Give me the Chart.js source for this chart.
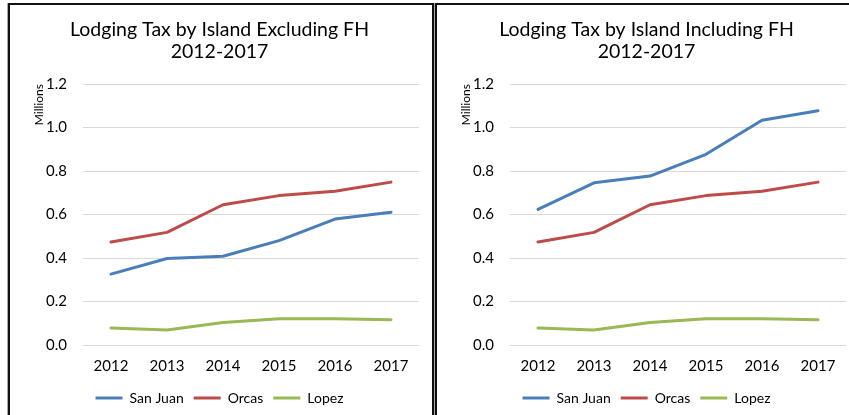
<!DOCTYPE html>
<html>
<head>
<meta charset="utf-8">
<script src="https://cdn.jsdelivr.net/npm/chart.js@4"></script>
<style>
  html, body { margin: 0; padding: 0; background: #fff; overflow: hidden; }
  body { width: 849px; height: 415px; position: relative; }
  .panel { position: absolute; top: 3px; height: 420px; box-sizing: border-box; border-top: 2px solid #111; border-left: 2px solid #111; background: #fff; }
  #leftPanel { left: 8px; width: 426px; border-right: 2px solid #111; }
  #rightPanel { left: 435px; width: 430px; }
  .panel::before { content: ''; position: absolute; top: -2px; bottom: 0; width: 1px; background: #aaa; }
  #leftPanel::before { left: -3px; }
  #rightPanel::before { left: -3px; }
  canvas { position: absolute; left: 0; top: 0; }
</style>
</head>
<body>
<div class="panel" id="leftPanel"><canvas id="chartExcl" width="422" height="410"></canvas></div>
<div class="panel" id="rightPanel"><canvas id="chartIncl" width="422" height="410"></canvas></div>
<script>
// 데이터 (그림에서 읽은 값, 단위: 백만)
const years = ['2012', '2013', '2014', '2015', '2016', '2017'];
const sanJuanExcl = [0.326, 0.398, 0.408, 0.48, 0.579, 0.611];
const sanJuanIncl = [0.624, 0.746, 0.777, 0.877, 1.034, 1.077];
const orcas = [0.474, 0.518, 0.645, 0.687, 0.707, 0.749];
const lopez = [0.078, 0.069, 0.103, 0.121, 0.121, 0.116];
const yMin = 0, yMax = 1.2, yStep = 0.2;

const FONT = 'Lato, "Open Sans", sans-serif';

function makeChart(id, title, sanJuan) {
    const ctx = document.getElementById(id).getContext('2d');
    return new Chart(ctx, {
        type: 'line',
        data: {
            labels: years,
            datasets: [
                { label: 'San Juan', data: sanJuan, borderColor: '#4A7EBB', backgroundColor: '#4A7EBB', borderWidth: 3 },
                { label: 'Orcas', data: orcas, borderColor: '#BE4B48', backgroundColor: '#BE4B48', borderWidth: 3 },
                { label: 'Lopez', data: lopez, borderColor: '#98B954', backgroundColor: '#98B954', borderWidth: 3 }
            ]
        },
        options: {
            responsive: false,
            animation: false,
            elements: {
                line: { tension: 0, borderCapStyle: 'round', borderJoinStyle: 'round' },
                point: { radius: 0 }
            },
            layout: { padding: { left: 10, right: 13, top: 0, bottom: 0 } },
            scales: {
                x: {
                    offset: true,
                    grid: { display: false, drawTicks: false },
                    border: { display: false },
                    ticks: { color: '#000', padding: 12, font: { family: FONT, size: 15 } },
                    afterFit: (scale) => { scale.height = 36; }
                },
                y: {
                    min: yMin,
                    max: yMax,
                    ticks: {
                        stepSize: yStep,
                        color: '#000',
                        padding: 16,
                        font: { family: FONT, size: 15 },
                        callback: (v) => v.toFixed(1)
                    },
                    grid: { color: '#D9D9D9', lineWidth: 1, drawTicks: false },
                    border: { display: false },
                    title: {
                        display: true,
                        text: 'Millions',
                        align: 'end',
                        color: '#000',
                        font: { family: FONT, size: 12 },
                        padding: { top: 12, bottom: 0 }
                    },
                    afterFit: (scale) => { scale.width = 63; }
                }
            },
            plugins: {
                title: {
                    display: true,
                    text: [title, '2012-2017'],
                    color: '#000',
                    font: { family: FONT, size: 19.5, weight: 'normal', lineHeight: 1.13 },
                    padding: { top: 14, bottom: 21 }
                },
                legend: {
                    position: 'bottom',
                    labels: {
                        usePointStyle: true,
                        pointStyle: 'line',
                        pointStyleWidth: 27,
                        boxHeight: 3,
                        padding: 10,
                        color: '#000',
                        font: { family: FONT, size: 14 }
                    }
                },
                tooltip: { enabled: false }
            }
        }
    });
}

makeChart('chartExcl', 'Lodging Tax by Island Excluding FH', sanJuanExcl);
makeChart('chartIncl', 'Lodging Tax by Island Including FH', sanJuanIncl);
</script>
</body>
</html>
